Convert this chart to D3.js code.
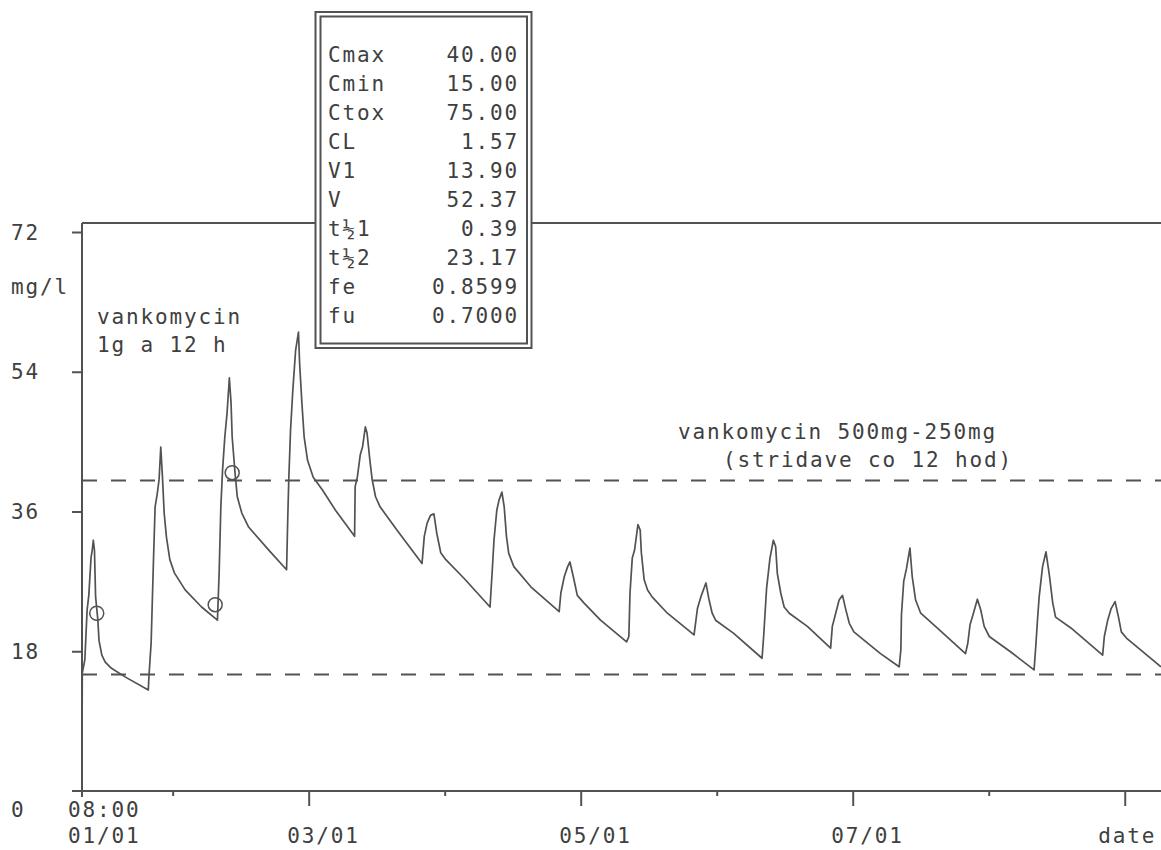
<!DOCTYPE html>
<html>
<head>
<meta charset="utf-8">
<script src="https://cdn.jsdelivr.net/npm/d3@7"></script>
<style>
  body { margin: 0; background: #fff; }
  svg text {
    font-family: "DejaVu Sans Mono", monospace;
    font-size: 21px;
    letter-spacing: 1.86px;
    fill: #404040;
  }
</style>
</head>
<body>
<svg id="chart" width="1161" height="850"></svg>
<script>
// time in hours from 01/01 00:00, concentration in mg/l

// vankomycin 1g a 12 h
const loadHours = [
  8.0, 8.05, 8.5, 8.9, 9.2, 9.6, 9.8, 10.0, 10.2, 10.4, 10.8, 11.0, 11.5, 12.1, 13.2, 15.6, 19.7,
  19.8, 20.2, 20.6, 20.9, 21.3, 21.6, 21.9, 22.2, 22.5, 22.9, 23.5, 24.3, 26.2, 29.1, 31.9,
  32.2, 32.5, 32.8, 33.2, 33.6, 34.0, 34.3, 34.5, 35.0, 35.4, 36.2, 37.4, 41.0, 44.1,
  44.3, 44.5, 44.8, 45.2, 45.7, 46.2, 46.4, 46.8, 47.2, 47.8, 48.8, 50.4, 52.7, 56.1
];
const loadConc = [
  4.9, 15.2, 16.9, 23.3, 25.2, 30.1, 31.0, 32.3, 31.0, 25.0, 22.0, 19.4, 17.5, 16.6, 15.8, 14.7, 13.0,
  14.6, 19.1, 29.4, 36.6, 38.4, 40.1, 44.3, 40.4, 35.8, 32.7, 29.8, 28.1, 25.9, 23.7, 22.0,
  28.1, 36.6, 41.3, 45.6, 48.7, 53.2, 50.0, 45.6, 41.0, 37.9, 35.8, 34.0, 31.0, 28.5,
  34.9, 40.4, 46.5, 51.6, 56.8, 59.1, 55.1, 50.0, 45.6, 42.6, 40.4, 38.8, 36.2, 32.8
];

// vankomycin 500mg-250mg (stridave co 12 hod)
const maintHours = [
  56.2, 56.6, 57.1, 57.5, 58.0, 58.3, 58.8, 59.2, 59.8, 60.6, 63.6, 68.0,
  68.4, 68.9, 69.5, 70.1, 70.6, 71.3, 72.2, 75.4, 80.0,
  80.4, 80.7, 81.2, 81.6, 82.1, 82.5, 82.9, 83.3, 84.2, 87.2, 92.2,
  92.5, 93.1, 93.7, 94.1, 94.7, 95.4, 96.6, 99.5, 104.1,
  104.5, 104.7, 105.1, 105.5, 106.1, 106.5, 106.7, 107.2, 107.8, 108.6, 111.3, 116.0,
  116.6, 117.2, 118.1, 118.6, 119.2, 119.8, 123.0, 128.0,
  128.3, 128.8, 129.4, 130.0, 130.4, 130.7, 131.3, 131.9, 132.8, 136.0, 140.1,
  140.4, 141.0, 141.6, 142.2, 142.8, 143.4, 144.2, 148.9, 152.2,
  152.5, 152.6, 153.0, 153.5, 154.1, 154.5, 155.1, 156.0, 158.9, 163.9,
  164.3, 164.7, 165.3, 166.0, 166.6, 167.2, 168.1, 171.9, 176.0,
  176.3, 176.6, 176.9, 177.5, 178.1, 178.7, 179.3, 179.8, 182.5, 188.1,
  188.4, 189.0, 189.6, 190.3, 190.9, 191.4, 192.3, 198.4
];
const maintConc = [
  39.2, 40.5, 43.3, 44.3, 46.9, 46.1, 42.6, 40.1, 37.9, 36.6, 33.6, 29.3,
  32.8, 34.5, 35.5, 35.7, 33.2, 30.7, 29.8, 27.4, 23.7,
  28.5, 32.3, 36.2, 37.5, 38.5, 36.6, 32.8, 30.6, 28.9, 26.3, 23.1,
  25.5, 27.6, 28.9, 29.5, 27.6, 25.2, 24.2, 22.0, 19.2,
  19.9, 25.5, 30.0, 31.0, 34.3, 33.6, 30.7, 27.2, 25.9, 25.0, 22.9, 20.1,
  23.5, 25.0, 26.8, 24.8, 22.9, 22.0, 20.3, 17.1,
  20.1, 26.1, 30.0, 32.3, 31.5, 28.0, 25.5, 23.7, 22.9, 21.2, 18.4,
  21.2, 22.9, 24.6, 25.2, 23.3, 21.6, 20.5, 17.7, 16.0,
  18.2, 22.7, 27.0, 28.7, 31.3, 27.6, 24.6, 22.9, 21.0, 17.7,
  19.0, 21.4, 22.9, 24.7, 23.3, 21.2, 19.9, 17.9, 15.6,
  18.6, 22.0, 25.0, 28.9, 30.8, 27.8, 24.2, 22.4, 21.0, 17.5,
  19.9, 22.0, 23.5, 24.4, 22.4, 20.5, 19.7, 16.0
];

// measured levels
const sampleHours = [10.6, 31.5, 34.5];
const sampleConc = [22.9, 24.0, 41.0];

const limitValues = [40, 15]; // Cmax, Cmin

const yTicks = [18, 36, 54, 72];
const dayTicks = [48, 96, 144, 192];
const dayLabels = ["03/01", "05/01", "07/01", "date"];
const minorTicks = [24, 72, 120, 168];
const startHour = 8;

const paramNames = ["Cmax", "Cmin", "Ctox", "CL", "V1", "V", "t½1", "t½2", "fe", "fu"];
const paramValues = ["40.00", "15.00", "75.00", "1.57", "13.90", "52.37", "0.39", "23.17", "0.8599", "0.7000"];

const ink = "#525252";
const frameTop = 223;

const svg = d3.select("#chart");

const x = d3.scaleLinear().domain([startHour, 198.4]).range([82, 1161]);
const y = d3.scaleLinear().domain([0, 72]).range([791, 232]);

// frame
svg.append("line")
  .attr("x1", x(startHour)).attr("x2", 1161)
  .attr("y1", frameTop).attr("y2", frameTop)
  .attr("stroke", ink).attr("stroke-width", 2);
svg.append("line")
  .attr("x1", x(startHour)).attr("x2", x(startHour))
  .attr("y1", frameTop).attr("y2", y(0) + 6)
  .attr("stroke", ink).attr("stroke-width", 2);
svg.append("line")
  .attr("x1", x(startHour) - 10).attr("x2", 1161)
  .attr("y1", y(0)).attr("y2", y(0))
  .attr("stroke", ink).attr("stroke-width", 2);

// y axis
const yAxis = svg.append("g")
  .attr("transform", `translate(${x(startHour)},0)`)
  .call(d3.axisLeft(y).tickValues(yTicks).tickSize(10));
yAxis.select(".domain").remove();
yAxis.selectAll("line").attr("stroke", ink).attr("stroke-width", 2);
yAxis.selectAll("text")
  .attr("x", -71).attr("text-anchor", "start").attr("dy", "0.34em");

svg.append("text").attr("x", 11).attr("y", y(0) + 26).text("0");
svg.append("text").attr("x", 11).attr("y", 294).text("mg/l");

// x axis
const xMajor = svg.append("g")
  .attr("transform", `translate(0,${y(0)})`)
  .call(d3.axisBottom(x).tickValues(dayTicks).tickSize(15).tickFormat((d, i) => dayLabels[i]));
xMajor.select(".domain").remove();
xMajor.selectAll("line").attr("stroke", ink).attr("stroke-width", 2);
xMajor.selectAll("text")
  .attr("y", 52).attr("dy", 0)
  .attr("text-anchor", (d, i) => i === dayLabels.length - 1 ? "middle" : "start")
  .attr("dx", (d, i) => i === dayLabels.length - 1 ? 2 : -22);

const xMinor = svg.append("g")
  .attr("transform", `translate(0,${y(0)})`)
  .call(d3.axisBottom(x).tickValues(minorTicks).tickSize(5).tickFormat(""));
xMinor.select(".domain").remove();
xMinor.selectAll("line").attr("stroke", ink).attr("stroke-width", 2);

svg.append("text").attr("x", x(startHour) - 14).attr("y", y(0) + 26).text("08:00");
svg.append("text").attr("x", x(startHour) - 14).attr("y", y(0) + 52).text("01/01");

// limits
svg.selectAll(".limit")
  .data(limitValues)
  .enter()
  .append("line")
  .attr("class", "limit")
  .attr("x1", x(startHour)).attr("x2", 1161)
  .attr("y1", d => y(d)).attr("y2", d => y(d))
  .attr("stroke", ink).attr("stroke-width", 2)
  .attr("stroke-dasharray", "15,14");

// curve
const hours = loadHours.concat(maintHours);
const conc = loadConc.concat(maintConc);
const pts = hours.map((h, i) => [h, conc[i]]);

svg.append("path")
  .datum(pts)
  .attr("fill", "none")
  .attr("stroke", ink)
  .attr("stroke-width", 1.7)
  .attr("stroke-linejoin", "round")
  .attr("d", d3.line().x(d => x(d[0])).y(d => y(d[1])));

svg.selectAll(".sample")
  .data(sampleHours)
  .enter()
  .append("circle")
  .attr("class", "sample")
  .attr("cx", d => x(d))
  .attr("cy", (d, i) => y(sampleConc[i]))
  .attr("r", 7)
  .attr("fill", "none")
  .attr("stroke", ink)
  .attr("stroke-width", 1.5);

// annotations
svg.append("text").attr("x", 97).attr("y", 324).text("vankomycin");
svg.append("text").attr("x", 97).attr("y", 352).text("1g a 12 h");
svg.append("text").attr("x", 678).attr("y", 439).text("vankomycin 500mg-250mg");
svg.append("text").attr("x", 723).attr("y", 467).text("(stridave co 12 hod)");

// parameter box
const box = svg.append("g");
box.append("rect")
  .attr("x", 315.5).attr("y", 12).attr("width", 216).attr("height", 336)
  .attr("fill", "#fff").attr("stroke", ink).attr("stroke-width", 2);
box.append("rect")
  .attr("x", 320.5).attr("y", 16.5).attr("width", 206.5).attr("height", 327)
  .attr("fill", "none").attr("stroke", ink).attr("stroke-width", 2);

box.selectAll(".pname")
  .data(paramNames)
  .enter()
  .append("text")
  .attr("class", "pname")
  .attr("x", 328)
  .attr("y", (d, i) => 62 + i * 29)
  .text(d => d);

box.selectAll(".pval")
  .data(paramValues)
  .enter()
  .append("text")
  .attr("class", "pval")
  .attr("x", 519)
  .attr("y", (d, i) => 62 + i * 29)
  .attr("text-anchor", "end")
  .text(d => d);
</script>
</body>
</html>
